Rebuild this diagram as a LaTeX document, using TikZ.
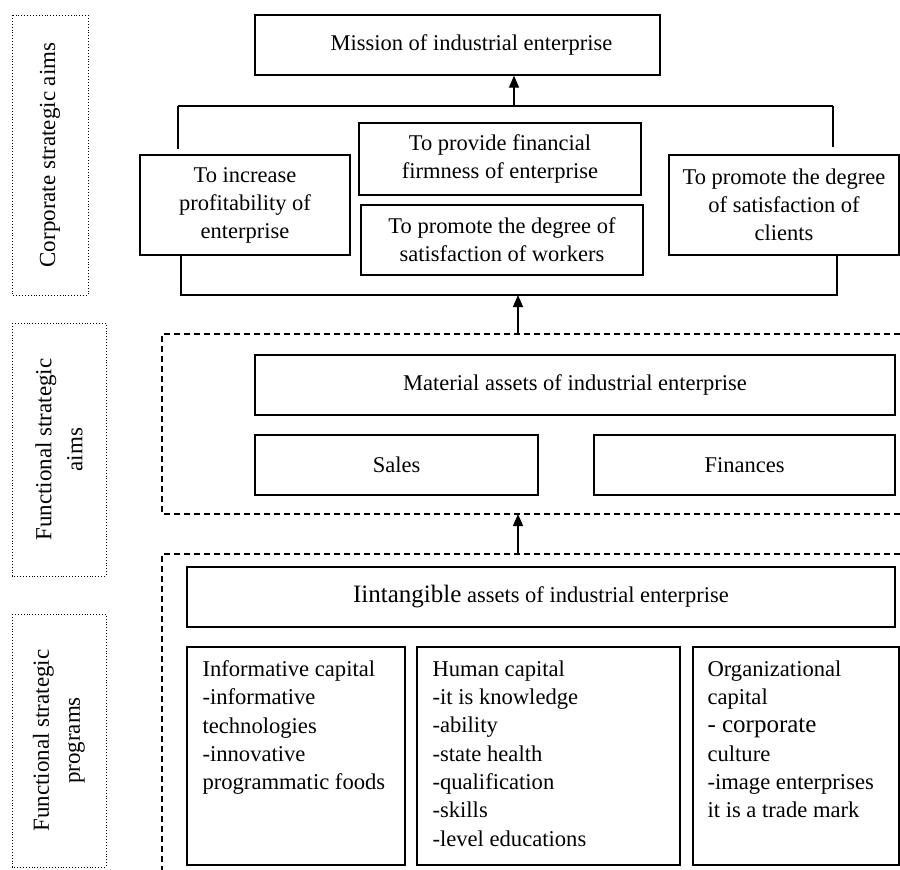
\documentclass[tikz,border=0pt]{standalone}
\usepackage{fontspec}
\setmainfont{Liberation Serif}
\usetikzlibrary{arrows.meta}
\begin{document}
\begin{tikzpicture}[x=1pt,y=-1pt,
  box/.style={draw, line width=1.3pt, inner sep=0pt, align=center,
    font=\fontsize{22.5}{28}\selectfont},
  lab/.style={draw, dotted, line width=0.9pt, inner sep=0pt, align=center, rotate=90,
    font=\fontsize{23}{31}\selectfont},
  txt/.style={anchor=north west, inner sep=0pt, align=left,
    font=\fontsize{22.6}{28.3}\selectfont},
  conn/.style={line width=1.3pt},
  arr/.style={line width=1.3pt, -{Triangle[length=12pt,width=10pt]}},
  dashln/.style={line width=1.1pt, dash pattern=on 6pt off 4pt}
]
\useasboundingbox (0,0) rectangle (900,870);

% left labels
\node[lab, minimum width=280, minimum height=76] (l1) at (50,155) {Corporate strategic aims};
\node[lab, minimum width=253, minimum height=94] (l2) at (59,449.5) {Functional strategic\\aims};
\node[lab, minimum width=253, minimum height=94] (l3) at (59,740.5) {Functional strategic\\programs};

% corporate level
\node[box, minimum width=405, minimum height=60] (mission) at (457.5,45) {\hspace*{28pt}Mission of industrial enterprise};
\node[box, minimum width=210, minimum height=100] (inc) at (245,205) {To increase\\profitability of\\enterprise};
\node[box, minimum width=282, minimum height=72] (fin) at (500,159) {To provide financial\\firmness of enterprise};
\node[box, minimum width=282, minimum height=70] (wrk) at (502,240) {To promote the degree of\\satisfaction of workers};
\node[box, minimum width=230, minimum height=100] (cli) at (784,205) {To promote the degree\\of satisfaction of\\clients};

\coordinate (tl) at (178,106);
\coordinate (tr) at (833,106);
\coordinate (tm) at (514,106);
\draw[conn] (tl) -- (tr);
\draw[conn] (tl) -- ([yshift=5pt]inc.north -| tl);
\draw[conn] (tr) -- ([yshift=7pt]cli.north -| tr);
\draw[arr] (tm) -- (mission.south -| tm);

\coordinate (bl) at (181,295);
\coordinate (br) at (837,295);
\coordinate (bm) at (518,295);
\draw[conn] (inc.south -| bl) -- (bl) -- (br) -- (cli.south -| br);

% functional aims
\coordinate (d1a) at (900,334);
\coordinate (d1b) at (162,334);
\coordinate (d1c) at (162,514);
\coordinate (d1d) at (900,514);
\draw[dashln] (d1a) -- (d1b) -- (d1c) -- (d1d);
\coordinate (d1t) at (518,334);
\draw[arr] (d1t) -- (bm);

\node[box, minimum width=640, minimum height=60] (mat) at (575,385) {Material assets of industrial enterprise};
\node[box, minimum width=283, minimum height=60] (sales) at (396.5,465) {Sales};
\node[box, minimum width=301, minimum height=60] (finan) at (744.5,465) {Finances};

% functional programs
\coordinate (d2a) at (900,554);
\coordinate (d2b) at (162,554);
\coordinate (d2c) at (162,870);
\draw[dashln] (d2a) -- (d2b) -- (d2c);
\coordinate (d2t) at (518,554);
\coordinate (d1m) at (518,514);
\draw[arr] (d2t) -- (d1m);

\node[box, minimum width=708, minimum height=60] (intang) at (541,597) {{\fontsize{25}{28}\selectfont Iintangible} assets of industrial enterprise};

\node[box, minimum width=218, minimum height=218] (b1) at (296,756) {};
\node[box, minimum width=263, minimum height=218] (b2) at (548.5,756) {};
\node[box, minimum width=206, minimum height=218] (b3) at (796,756) {};

\node[txt] (t1) at ([xshift=16pt,yshift=-14pt]b1.north west) {Informative capital\\-informative\\technologies\\-innovative\\programmatic foods};
\node[txt] (t2) at ([xshift=16pt,yshift=-14pt]b2.north west) {Human capital\\-it is knowledge\\-ability\\-state health\\-qualification\\-skills\\-level educations};
\node[txt] (t3) at ([xshift=15pt,yshift=-14pt]b3.north west) {Organizational\\capital\\{\fontsize{25}{28}\selectfont - corporate}\\culture\\-image enterprises\\it is a trade mark};
\end{tikzpicture}
\end{document}
